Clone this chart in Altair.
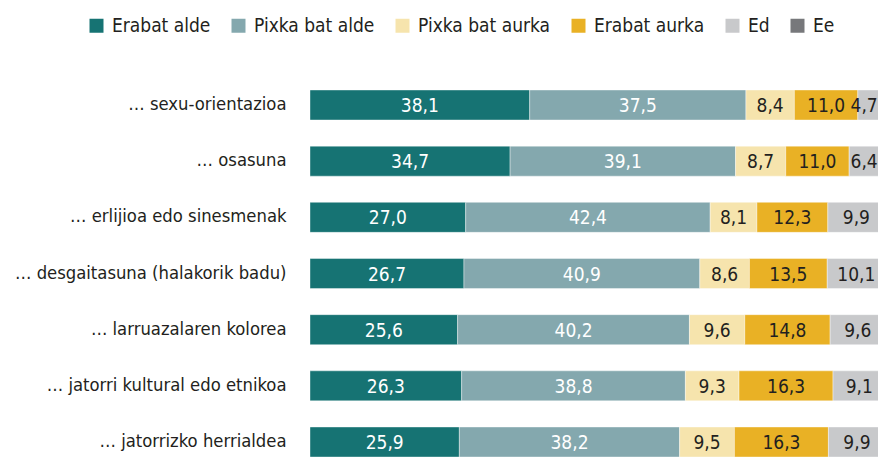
import altair as alt
import pandas as pd

items = [
    "… sexu-orientazioa",
    "… osasuna",
    "… erlijioa edo sinesmenak",
    "… desgaitasuna (halakorik badu)",
    "… larruazalaren kolorea",
    "… jatorri kultural edo etnikoa",
    "… jatorrizko herrialdea",
]
categories = ["Erabat alde", "Pixka bat alde", "Pixka bat aurka", "Erabat aurka", "Ed", "Ee"]
colors = ["#167373", "#84a8ae", "#f6e4ad", "#e9b125", "#c8c9cb", "#77787b"]

erabat_alde = [38.1, 34.7, 27.0, 26.7, 25.6, 26.3, 25.9]
pixka_alde = [37.5, 39.1, 42.4, 40.9, 40.2, 38.8, 38.2]
pixka_aurka = [8.4, 8.7, 8.1, 8.6, 9.6, 9.3, 9.5]
erabat_aurka = [11.0, 11.0, 12.3, 13.5, 14.8, 16.3, 16.3]
ed = [4.7, 6.4, 9.9, 10.1, 9.6, 9.1, 9.9]
ee = [0.3, 0.1, 0.3, 0.2, 0.2, 0.2, 0.2]

series = [erabat_alde, pixka_alde, pixka_aurka, erabat_aurka, ed, ee]
rows = []
for ci, (cat, vals) in enumerate(zip(categories, series)):
    for it, v in zip(items, vals):
        rows.append({"item": it, "cat": cat, "order": ci, "value": v})
df = pd.DataFrame(rows)

FONT = "DejaVu Sans Condensed, sans-serif"
XDOMAIN = [0, 98.5]

base = alt.Chart(df).transform_stack(
    stack="value", groupby=["item"], sort=[alt.SortField("order")], as_=["x0", "x1"]
).transform_calculate(
    mid="min((datum.x0 + datum.x1) / 2, 96.1)",
    label="replace(format(datum.value, '.1f'), '.', ',')",
)

yenc = alt.Y(
    "item:N",
    sort=items,
    title=None,
    scale=alt.Scale(paddingInner=0.4659, paddingOuter=0),
    axis=alt.Axis(
        domain=False, ticks=False, labelPadding=24, labelFontSize=18.3,
        labelFont=FONT, labelColor="#231f20", labelLimit=400,
    ),
)

bars = base.mark_bar(stroke="white", strokeWidth=0.4, clip=True).encode(
    x=alt.X("x0:Q", scale=alt.Scale(domain=XDOMAIN), axis=None),
    x2="x1:Q",
    y=yenc,
    color=alt.Color(
        "cat:N",
        scale=alt.Scale(domain=categories, range=colors),
        sort=categories,
        legend=alt.Legend(
            title=None, orient="none", direction="horizontal", columns=6,
            legendX=-223, legendY=-74, padding=0, symbolType="square", symbolSize=196,
            symbolStrokeWidth=0, labelFontSize=19, labelFont=FONT,
            labelColor="#231f20", labelOffset=6, columnPadding=18,
        ),
    ),
    order=alt.Order("order:Q"),
)

texts = base.transform_filter("datum.value >= 3").mark_text(
    fontSize=19, font=FONT, baseline="middle", align="center", dy=1
).encode(
    x=alt.X("mid:Q", scale=alt.Scale(domain=XDOMAIN)),
    y=alt.Y("item:N", sort=items),
    text="label:N",
    color=alt.condition(
        "datum.order <= 1", alt.value("#ffffff"), alt.value("#231f20")
    ),
)

chart = alt.layer(bars, texts).properties(
    width=568, height=367,
    autosize=alt.AutoSizeParams(type="none"),
    padding={"left": 302, "top": 82, "right": 0, "bottom": 0},
).configure_view(stroke=None)

chart.save("out.html", embed_options={"renderer": "svg", "actions": False})
